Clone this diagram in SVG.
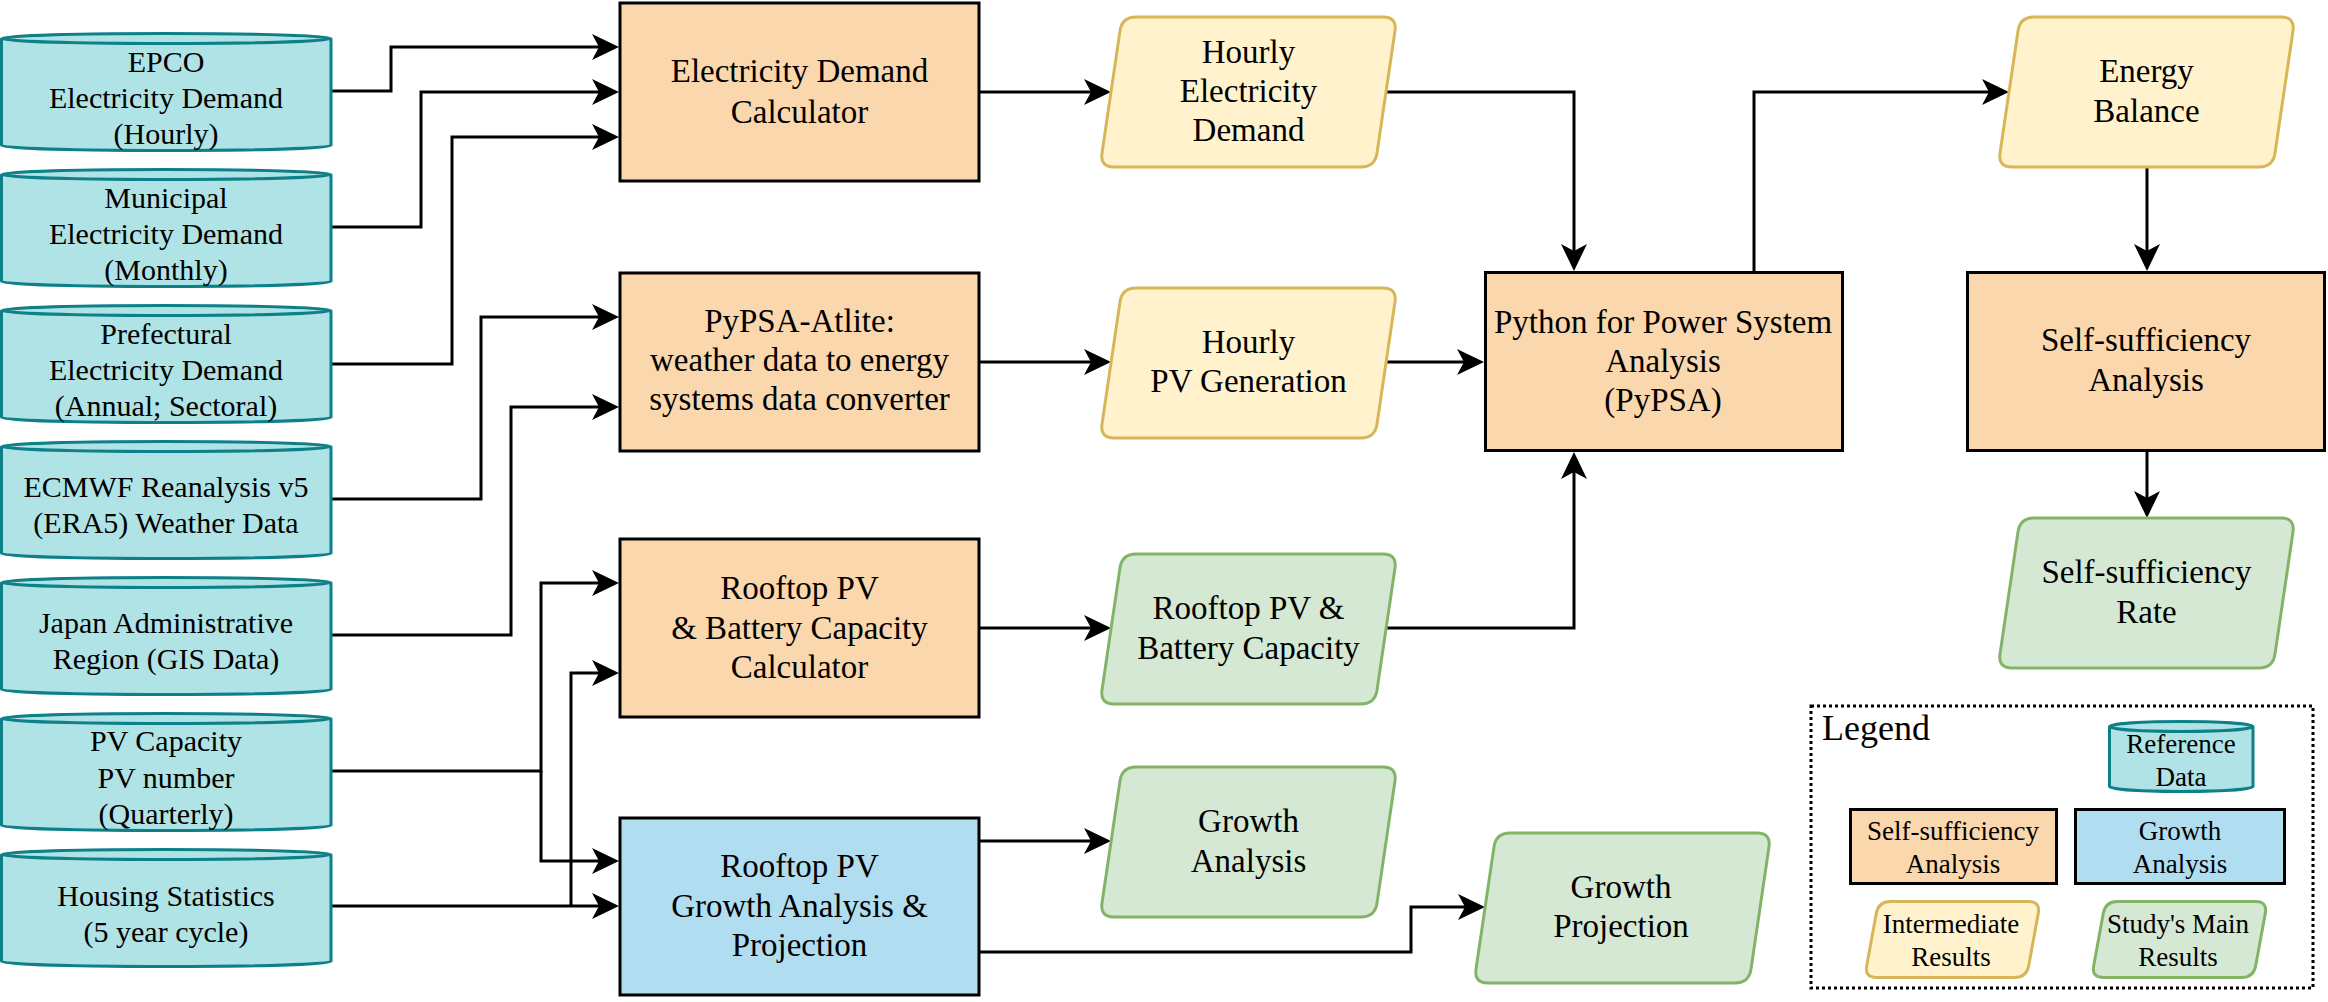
<svg xmlns="http://www.w3.org/2000/svg" xmlns:xlink="http://www.w3.org/1999/xlink" width="2328" height="1002" viewBox="0 0 2328 1002">
<style>
.cyl{fill:#b0e3e6;stroke:#0e8088;stroke-width:3}
.box{stroke:#000;stroke-width:3}
.orange{fill:#fad7ac}
.blue{fill:#b1ddf0}
.yel{fill:#fff2cc;stroke:#d6b656;stroke-width:3}
.grn{fill:#d5e8d4;stroke:#82b366;stroke-width:3}
.conn{fill:none;stroke:#000;stroke-width:3;marker-end:url(#arr)}
.line{fill:none;stroke:#000;stroke-width:3}
text{font-family:"Liberation Serif","Times New Roman",serif;fill:#000;text-anchor:middle}
.t30{font-size:30px}
.t33{font-size:33px}
.t27{font-size:27px}
.t36{font-size:36px;text-anchor:start}
</style>
<defs>
<marker id="arr" viewBox="-10 -15 35 30" markerUnits="userSpaceOnUse" markerWidth="35" markerHeight="30" refX="0" refY="0" orient="auto" overflow="visible">
<path d="M20,0 L-7,-13 L0,0 L-7,13 Z" fill="#000"/>
</marker>
<path id="cylshape" d="M0,5 A164.75,5 0 0 1 329.5,5 L329.5,112 A164.75,5 0 0 1 0,112 Z M329.5,5 A164.75,5 0 0 1 0,5"/>
<path id="cylsmall" d="M0,5 A71.75,5 0 0 1 143.5,5 L143.5,65 A71.75,5 0 0 1 0,65 Z M143.5,5 A71.75,5 0 0 1 0,5"/>
<path id="para" d="M36,0 L283,0 Q297,0 295,13.85 L277,136.15 Q275,150 261,150 L14,150 Q0,150 2,136.15 L20,13.85 Q22,0 36,0 Z"/>
<path id="parasmall" d="M26,0 L164,0 Q176,0 173.8,11.8 L164.2,64.2 Q162,76 150,76 L12,76 Q0,76 2.2,64.2 L11.8,11.8 Q14,0 26,0 Z"/>
</defs>

<g id="connectors">
<path class="conn" d="M331,91 H391 V47 H599"/>
<path class="conn" d="M331,227 H421 V92 H599"/>
<path class="conn" d="M331,364 H452 V137 H599"/>
<path class="conn" d="M331,499 H481 V317 H599"/>
<path class="conn" d="M331,635 H511 V407 H599"/>
<path class="conn" d="M331,771 H541 V583 H599"/>
<path class="conn" d="M541,771 V861 H599"/>
<path class="conn" d="M331,906 H599"/>
<path class="conn" d="M571,906 V673 H599"/>
<path class="conn" d="M980,92 H1091"/>
<path class="conn" d="M980,362 H1091"/>
<path class="conn" d="M980,628 H1091"/>
<path class="conn" d="M980,841 H1091"/>
<path class="conn" d="M980,952 H1411 V907 H1465"/>
<path class="conn" d="M1386,92 H1574 V251"/>
<path class="conn" d="M1386,362 H1464"/>
<path class="conn" d="M1386,628 H1574 V472"/>
<path class="conn" d="M1754,271 V92 H1989"/>
<path class="conn" d="M2147,167 V251"/>
<path class="conn" d="M2147,452 V498"/>
</g>

<g id="c-epco">
<use xlink:href="#cylshape" href="#cylshape" class="cyl" x="1.5" y="33.5"/>
<text class="t30" x="166" y="71.5">EPCO</text>
<text class="t30" x="166" y="107.5">Electricity Demand</text>
<text class="t30" x="166" y="143.5">(Hourly)</text>
</g>
<g id="c-municipal">
<use xlink:href="#cylshape" href="#cylshape" class="cyl" x="1.5" y="169.5"/>
<text class="t30" x="166" y="207.5">Municipal</text>
<text class="t30" x="166" y="243.5">Electricity Demand</text>
<text class="t30" x="166" y="279.5">(Monthly)</text>
</g>
<g id="c-prefectural">
<use xlink:href="#cylshape" href="#cylshape" class="cyl" x="1.5" y="305.5"/>
<text class="t30" x="166" y="343.5">Prefectural</text>
<text class="t30" x="166" y="379.5">Electricity Demand</text>
<text class="t30" x="166" y="415.5">(Annual; Sectoral)</text>
</g>
<g id="c-ecmwf">
<use xlink:href="#cylshape" href="#cylshape" class="cyl" x="1.5" y="441.5"/>
<text class="t30" x="166" y="497">ECMWF Reanalysis v5</text>
<text class="t30" x="166" y="533">(ERA5) Weather Data</text>
</g>
<g id="c-japan">
<use xlink:href="#cylshape" href="#cylshape" class="cyl" x="1.5" y="577.5"/>
<text class="t30" x="166" y="633">Japan Administrative</text>
<text class="t30" x="166" y="669">Region (GIS Data)</text>
</g>
<g id="c-pvcap">
<use xlink:href="#cylshape" href="#cylshape" class="cyl" x="1.5" y="713.5"/>
<text class="t30" x="166" y="751">PV Capacity</text>
<text class="t30" x="166" y="788">PV number</text>
<text class="t30" x="166" y="824">(Quarterly)</text>
</g>
<g id="c-housing">
<use xlink:href="#cylshape" href="#cylshape" class="cyl" x="1.5" y="849.5"/>
<text class="t30" x="166" y="905.5">Housing Statistics</text>
<text class="t30" x="166" y="941.5">(5 year cycle)</text>
</g>

<g id="b-elec">
<rect class="box orange" x="620" y="3" width="359" height="178"/>
<text class="t33" x="799.5" y="82">Electricity Demand</text>
<text class="t33" x="799.5" y="123">Calculator</text>
</g>
<g id="b-atlite">
<rect class="box orange" x="620" y="273" width="359" height="178"/>
<text class="t33" x="799.5" y="331.5">PyPSA-Atlite:</text>
<text class="t33" x="799.5" y="370.5">weather data to energy</text>
<text class="t33" x="799.5" y="409.5">systems data converter</text>
</g>
<g id="b-rooftop">
<rect class="box orange" x="620" y="539" width="359" height="178"/>
<text class="t33" x="799.5" y="599">Rooftop PV</text>
<text class="t33" x="799.5" y="639">&amp; Battery Capacity</text>
<text class="t33" x="799.5" y="678">Calculator</text>
</g>
<g id="b-growth">
<rect class="box blue" x="620" y="818" width="359" height="177"/>
<text class="t33" x="799.5" y="877">Rooftop PV</text>
<text class="t33" x="799.5" y="917">Growth Analysis &amp;</text>
<text class="t33" x="799.5" y="956">Projection</text>
</g>
<g id="b-pypsa">
<rect class="box orange" x="1485.5" y="272.5" width="357" height="178"/>
<text class="t33" x="1663" y="333">Python for Power System</text>
<text class="t33" x="1663" y="372">Analysis</text>
<text class="t33" x="1663" y="411">(PyPSA)</text>
</g>
<g id="b-ssa">
<rect class="box orange" x="1967.5" y="272.5" width="357" height="178"/>
<text class="t33" x="2146" y="351">Self-sufficiency</text>
<text class="t33" x="2146" y="391">Analysis</text>
</g>

<g id="p-hed">
<use xlink:href="#para" href="#para" class="yel" x="1100" y="17"/>
<text class="t33" x="1248.5" y="63">Hourly</text>
<text class="t33" x="1248.5" y="102">Electricity</text>
<text class="t33" x="1248.5" y="141">Demand</text>
</g>
<g id="p-pvg">
<use xlink:href="#para" href="#para" class="yel" x="1100" y="288"/>
<text class="t33" x="1248.5" y="353">Hourly</text>
<text class="t33" x="1248.5" y="392">PV Generation</text>
</g>
<g id="p-rbc">
<use xlink:href="#para" href="#para" class="grn" x="1100" y="554"/>
<text class="t33" x="1248.5" y="619">Rooftop PV &amp;</text>
<text class="t33" x="1248.5" y="659">Battery Capacity</text>
</g>
<g id="p-ga">
<use xlink:href="#para" href="#para" class="grn" x="1100" y="767"/>
<text class="t33" x="1248.5" y="832">Growth</text>
<text class="t33" x="1248.5" y="872">Analysis</text>
</g>
<g id="p-gp">
<use xlink:href="#para" href="#para" class="grn" x="1474" y="833"/>
<text class="t33" x="1621" y="898">Growth</text>
<text class="t33" x="1621" y="937">Projection</text>
</g>
<g id="p-eb">
<use xlink:href="#para" href="#para" class="yel" x="1998" y="17"/>
<text class="t33" x="2146.5" y="82">Energy</text>
<text class="t33" x="2146.5" y="122">Balance</text>
</g>
<g id="p-ssr">
<use xlink:href="#para" href="#para" class="grn" x="1998" y="518"/>
<text class="t33" x="2146.5" y="583">Self-sufficiency</text>
<text class="t33" x="2146.5" y="623">Rate</text>
</g>

<g id="legend">
<rect x="1811" y="706" width="502" height="282" fill="none" stroke="#000" stroke-width="3" stroke-dasharray="3 3"/>
<text class="t36" x="1822" y="740">Legend</text>
<use xlink:href="#cylsmall" href="#cylsmall" class="cyl" x="2109.5" y="721.5"/>
<text class="t27" x="2181" y="753">Reference</text>
<text class="t27" x="2181" y="786">Data</text>
<rect class="box orange" x="1850.5" y="809.5" width="206" height="74"/>
<text class="t27" x="1953" y="840">Self-sufficiency</text>
<text class="t27" x="1953" y="873">Analysis</text>
<rect class="box blue" x="2075.5" y="809.5" width="209" height="74"/>
<text class="t27" x="2180" y="840">Growth</text>
<text class="t27" x="2180" y="873">Analysis</text>
<use xlink:href="#parasmall" href="#parasmall" class="yel" x="1864.5" y="901.5"/>
<text class="t27" x="1951" y="933">Intermediate</text>
<text class="t27" x="1951" y="966">Results</text>
<use xlink:href="#parasmall" href="#parasmall" class="grn" x="2091.5" y="901.5"/>
<text class="t27" x="2178" y="933">Study's Main</text>
<text class="t27" x="2178" y="966">Results</text>
</g>
</svg>
